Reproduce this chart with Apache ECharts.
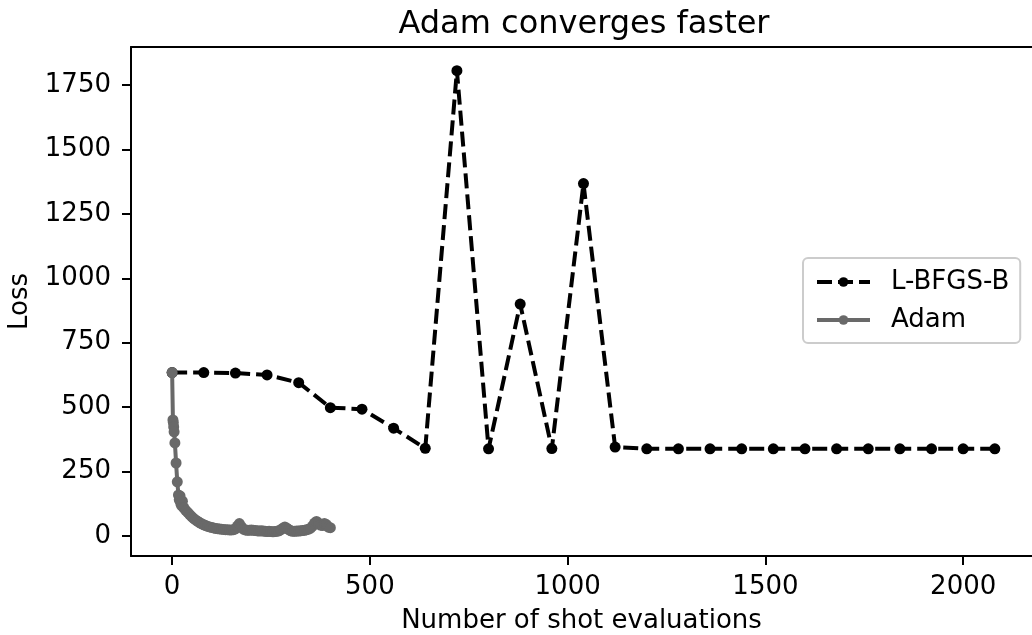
<!DOCTYPE html>
<html>
<head>
<meta charset="utf-8">
<script src="https://cdn.jsdelivr.net/npm/echarts@6/dist/echarts.min.js"></script>
<style>
html,body{margin:0;padding:0;background:#fff;}
#chart{width:1032px;height:635px;}
</style>
</head>
<body>
<div id="chart"></div>
<script>
// ---- data ----
const lbfgsX = [0,80,160,240,320,400,480,560,640,720,800,880,960,1040,1120,1200,1280,1360,1440,1520,1600,1680,1760,1840,1920,2000,2080];
const lbfgsY = [634,634,632,625,595,498,492,418,340,1806,338,900,339,1368,345,338,338,338,338,338,338,338,338,338,338,338,338];

const adamX = [0,2,3,4,5,7,10,13,16,18,20,22,24,26,28,30,35,40,45,50,55,60,65,70,75,80,85,90,95,100,105,110,115,120,125,130,135,140,145,150,155,160,165,170,175,180,185,190,195,200,205,210,215,220,225,230,235,240,245,250,255,260,265,270,275,280,285,290,295,300,305,310,315,320,325,330,335,340,345,350,355,360,365,370,375,380,385,390,395,400];
const adamY = [634,450,440,423,404,361,283,210,159,140,155,125,118,135,112,108,98,90,82,74,67,61,56,51,47,43,40,37,35,33,31,29,28,27,26,25,24,24,23,23,24,27,38,48,36,26,23,22,22,23,22,21,20,19,20,19,18,17,18,17,16,17,18,20,24,30,35,30,24,20,18,18,19,19,20,21,22,24,26,30,38,50,56,50,42,40,48,44,34,32];

const xTicks = [0,500,1000,1500,2000];
const yTicks = [0,250,500,750,1000,1250,1500,1750];

const seriesNames = ['L-BFGS-B','Adam'];
const titleText = 'Adam converges faster';
const xName = 'Number of shot evaluations';
const yName = 'Loss';

// ---- chart ----
const FONT = 'DejaVu Sans';
const chart = echarts.init(document.getElementById('chart'), null, {renderer:'canvas'});
const toPairs = (xs, ys) => xs.map((x,i)=>[x, ys[i]]);
const plain = v => String(v);

chart.setOption({
  animation:false,
  backgroundColor:'#ffffff',
  textStyle:{fontFamily:FONT},
  title:{
    text:titleText,
    left:584, top:9, padding:0,
    textAlign:'center',
    textStyle:{fontFamily:FONT,fontSize:32,fontWeight:'normal',color:'#000'}
  },
  grid:{
    left:131, top:47, right:0, bottom:79,
    containLabel:false, outerBoundsMode:'none',
    show:false
  },
  legend:{
    data:seriesNames,
    orient:'vertical',
    left:803, top:258,
    padding:[11,11,10,12],
    itemGap:12,
    itemWidth:53, itemHeight:12,
    lineStyle:{width:4},
    borderColor:'#cccccc', borderWidth:2, borderRadius:5,
    backgroundColor:'rgba(255,255,255,0.8)',
    textStyle:{fontFamily:FONT,fontSize:26,color:'#000',lineHeight:26,padding:[0,0,0,16]}
  },
  xAxis:[{
    type:'value', min:-104, max:2174,
    name:xName, nameLocation:'middle', nameGap:52,
    nameTextStyle:{fontFamily:FONT,fontSize:26,color:'#000',padding:[0,0,0,0]},
    axisLine:{show:true,onZero:false,lineStyle:{color:'#000',width:2}},
    axisTick:{show:true,length:9,lineStyle:{color:'#000',width:2},customValues:xTicks},
    axisLabel:{show:true,margin:18,fontFamily:FONT,fontSize:26,color:'#000',customValues:xTicks,formatter:plain},
    splitLine:{show:false}
  },{
    type:'value', min:-104, max:2174, position:'top',
    axisLine:{show:true,onZero:false,lineStyle:{color:'#000',width:2}},
    axisTick:{show:false}, axisLabel:{show:false}, splitLine:{show:false}
  }],
  yAxis:{
    type:'value', min:-78, max:1898,
    name:yName, nameLocation:'middle', nameGap:98, nameRotate:90,
    nameTextStyle:{fontFamily:FONT,fontSize:26,color:'#000'},
    axisLine:{show:true,onZero:false,lineStyle:{color:'#000',width:2}},
    axisTick:{show:true,length:9,lineStyle:{color:'#000',width:2},customValues:yTicks},
    axisLabel:{show:true,margin:20,fontFamily:FONT,fontSize:26,color:'#000',customValues:yTicks,formatter:plain},
    splitLine:{show:false}
  },
  series:[
    {
      name:seriesNames[0], type:'line', xAxisIndex:0,
      data:toPairs(lbfgsX,lbfgsY),
      symbol:'circle', symbolSize:11, showSymbol:true, showAllSymbol:true,
      itemStyle:{color:'#000'},
      lineStyle:{color:'#000',width:4,type:[15,6]},
      z:2
    },
    {
      name:seriesNames[1], type:'line', xAxisIndex:0,
      data:toPairs(adamX,adamY),
      symbol:'circle', symbolSize:11, showSymbol:true, showAllSymbol:true,
      itemStyle:{color:'#696969'},
      lineStyle:{color:'#696969',width:4},
      z:3
    }
  ]
});
</script>
</body>
</html>
